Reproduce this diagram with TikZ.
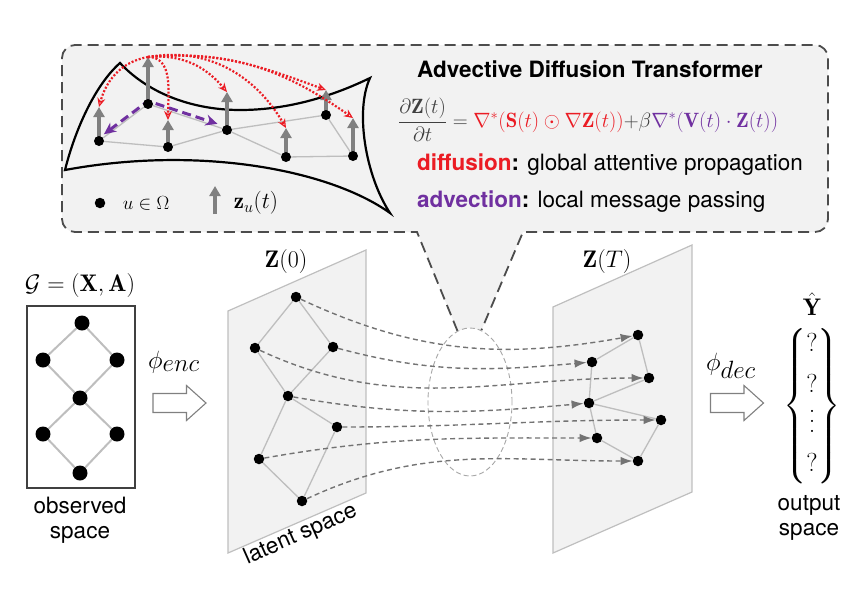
\documentclass[tikz,border=0pt]{standalone}
\usepackage{fix-cm}
\usepackage{amsmath, amssymb}
\usepackage{fontspec}
\setsansfont{TeX Gyre Heros}
\usetikzlibrary{arrows.meta, shapes.geometric, calc}

\definecolor{diffred}{RGB}{235,28,36}
\definecolor{advpurple}{RGB}{112,48,160}
\definecolor{panel}{RGB}{242,242,242}
\definecolor{linkgray}{RGB}{190,190,190}
\pgfdeclarelayer{back}
\pgfdeclarelayer{links}
\pgfsetlayers{back,links,main}
\newcommand{\sans}{\sffamily\fontsize{22.5}{25}\selectfont}
\newcommand{\tallvdots}{\vbox{\baselineskip=10pt\lineskiplimit=0pt\hbox{.}\hbox{.}\hbox{.}}}

\begin{document}
\begin{tikzpicture}[x=1pt, y=1pt,
        dot/.style={circle, fill=black, minimum size=15pt},
        sdot/.style={circle, fill=black, minimum size=10.5pt},
        link/.style={linkgray, line width=1.3pt},
        plane/.style={fill=panel, draw=black!25, line width=1.2pt},
        callout/.style={black!70, line width=1.8pt, dash pattern=on 11pt off 6pt},
        flow/.style={black!55, line width=1.4pt, dash pattern=on 5pt off 3.5pt, -{Latex[length=12pt, width=8.5pt]}},
        vec/.style={black!50, line width=4pt, -{Triangle[length=10pt, width=11pt]}},
        diff/.style={diffred, line width=2.2pt, dash pattern=on 2pt off 1.8pt, -{Stealth[open, length=9pt, width=8pt, line width=1.2pt]}},
        adv/.style={advpurple, line width=3pt, dash pattern=on 9pt off 5pt, {Stealth[length=12pt, width=11pt]}-{Stealth[length=12pt, width=11pt]}},
        hollow/.pic={\draw[black!50, line width=1.1pt, fill=white] (-26.5,9.5) -- (7,9.5) -- (7,17.5) -- (26.5,0) -- (7,-17.5) -- (7,-9.5) -- (-26.5,-9.5) -- cycle;}]
        \tikzstyle{every node}+=[inner sep=0pt]
        \useasboundingbox (0,0) rectangle (862,-611);

        \node[draw=black!35, ellipse, dash pattern=on 5pt off 3pt, line width=0.9pt, minimum width=84pt, minimum height=148pt] (focus) at (470,-402) {};

        \begin{pgfonlayer}{back}
        \fill[panel, rounded corners=13pt] (62,-45) rectangle (828,-232);
        \fill[panel] (417,-232) -- (focus.100) -- (focus.north) -- (focus.81) -- (523,-232) -- cycle;
        \draw[callout] (focus.100) -- (417,-232) -- (300,-232) [rounded corners=13pt] -- (200,-232) -- (62,-232) -- (62,-45) -- (828,-45) -- (828,-232) -- (700,-232) [sharp corners] -- (600,-232) -- (523,-232) -- (focus.81);
        \draw[line width=2.2pt] (240,-110) .. controls (290,-110) and (335,-95) .. (370,-78)
                .. controls (355,-110) and (365,-175) .. (390,-213)
                .. controls (330,-170) and (200,-145) .. (65,-170)
                .. controls (75,-130) and (95,-85) .. (120,-63)
                .. controls (150,-95) and (195,-110) .. (240,-110);
        \draw[plane] (228,-311) -- (366,-250) -- (366,-493) -- (228,-553) -- cycle;
        \draw[plane] (553,-307) -- (692,-245) -- (692,-492) -- (553,-553) -- cycle;
        \end{pgfonlayer}

        \draw[black!75, line width=1.2pt] (27,-306) rectangle (135,-488);
        \foreach \n/\x/\y in {1/82/323, 2/43/360, 3/117/360, 4/80/398, 5/43/434, 6/117/434, 7/80/473}
                \node[dot] (o\n) at (\x,-\y) {};
        \foreach \n/\x/\y in {1/296/297, 2/255/348, 3/333/347, 4/288/396, 5/337/427, 6/259/459, 7/302/501}
                \node[sdot] (p\n) at (\x,-\y) {};
        \foreach \n/\x/\y in {1/638/335, 2/649/378, 3/592/362, 4/589/403, 5/661/420, 6/597/438, 7/638/461}
                \node[sdot] (q\n) at (\x,-\y) {};
        \foreach \n/\x/\y in {1/99/141, 2/148/104, 3/168/147, 4/227/130, 5/286/157, 6/326/115, 7/353/156}
                \node[sdot, minimum size=10pt] (m\n) at (\x,-\y) {};
        \foreach \n/\h in {1/34, 2/47, 3/27, 4/38, 5/29, 6/25, 7/38}
                \path (m\n) ++(0,\h) coordinate (t\n);

        \begin{pgfonlayer}{links}
        \foreach \g/\w in {o/2, p/1.3, q/1.3, m/1.3}
                \foreach \a/\b in {1/2, 1/3, 2/4, 3/4, 4/5, 4/6, 5/7, 6/7}
                        \draw[link, line width=\w pt] (\g\a) -- (\g\b);
        \foreach \n in {1,...,7}
                \draw[vec] (m\n.center) -- (t\n);
        \draw[adv] ($(m2)!0.9!(m1)+(0,3)$) -- ($(m2)+(0,3)$) -- ($(m2)!0.88!(m4)+(0,3)$);
        \end{pgfonlayer}

        \foreach \n/\o/\i in {1/190/75, 3/0/90, 4/5/130, 5/10/120, 6/5/160, 7/5/145}
                \draw[diff] (t2) to[out=\o, in=\i] (t\n);

        \foreach \n/\o/\i in {1/-25/190, 2/-25/180, 3/-15/185, 4/-10/185, 5/0/180, 6/10/180, 7/25/180}
                \draw[flow] (p\n) to[out=\o, in=\i] (q\n);

        \node[sdot] (key) at (100,-203) {};
        \node[font=\fontsize{19}{21}\selectfont] (keytxt) at (146,-203) {$u\in\Omega$};
        \coordinate (keyb) at (215,-214);
        \coordinate (keyt) at (215,-186);
        \draw[vec] (keyb) -- (keyt);
        \node[font=\fontsize{23}{26}\selectfont] (vectxt) at (256,-203) {$\mathbf{z}_u(t)$};

        \node[anchor=base west, font=\sans\bfseries] (title) at (417,-77) {Advective Diffusion Transformer};
        \node[anchor=west, text=black!75, font=\fontsize{20.7}{24}\selectfont] (eqn) at (398,-120)
                {$\displaystyle\frac{\partial\mathbf{Z}(t)}{\partial t}=\textcolor{diffred}{\nabla^*(\mathbf{S}(t)\odot\nabla\mathbf{Z}(t))}{+}\beta\textcolor{advpurple}{\nabla^*(\mathbf{V}(t)\cdot\mathbf{Z}(t))}$};
        \node[anchor=base west, font=\sans] (diffline) at (417,-170) {\textbf{\textcolor{diffred}{diffusion}:} global attentive propagation};
        \node[anchor=base west, font=\sans] (advline) at (417,-207) {\textbf{\textcolor{advpurple}{advection}:} local message passing};

        \node[font=\fontsize{24}{28}\selectfont] (glbl) at (80,-285) {$\mathcal{G}=(\mathbf{X},\mathbf{A})$};
        \node[font=\sans, align=center, anchor=north] (obslbl) at (80,-497) {observed\\space};
        \node[font=\fontsize{24}{28}\selectfont] (z0lbl) at (286,-261) {$\mathbf{Z}(0)$};
        \node[font=\fontsize{24}{28}\selectfont] (ztlbl) at (607,-261) {$\mathbf{Z}(T)$};
        \node[font=\sans, rotate=24, anchor=base] (latlbl) at (303,-540) {latent space};
        \node[anchor=base west, font=\fontsize{25}{30}\selectfont] (enclbl) at (148,-368) {$\phi_{\textstyle enc}$};
        \node[anchor=base west, font=\fontsize{25}{30}\selectfont] (declbl) at (706,-370) {$\phi_{\textstyle dec}$};
        \pic at (179.5,-403) {hollow};
        \pic at (737,-403) {hollow};

        \node[font=\fontsize{24}{28}\selectfont] (yhat) at (812,-304) {$\hat{\mathbf{Y}}$};
        \node[font=\fontsize{26}{26}\selectfont] (preds) at (812,-406)
                {$\left\{\vcenter{\hrule height 142pt width 0pt}\begin{array}{@{}c@{}} ?\\[15pt] ?\\[10.8pt] \tallvdots\\[12.6pt] ?\end{array}\right\}$};
        \node[font=\sans, align=center, anchor=north] (outlbl) at (809,-495) {output\\space};
\end{tikzpicture}
\end{document}
